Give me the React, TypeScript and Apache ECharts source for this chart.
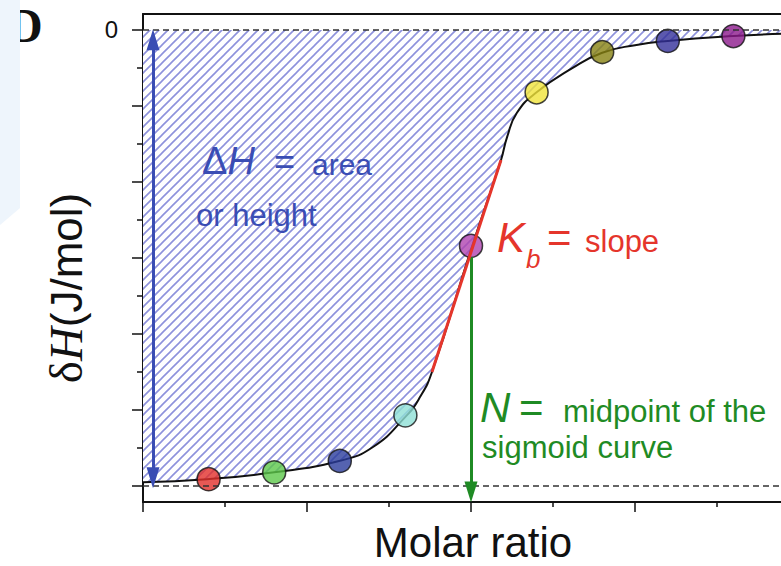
import React, { useEffect, useRef } from "react";
import * as echarts from "echarts";

// ---- data ----
const curveX = [0, 0.39, 0.8, 1.195, 1.4, 1.604, 1.689, 1.762, 2.0, 2.183, 2.22, 2.28, 2.4, 2.62, 2.8, 3.0, 3.2, 3.6, 3.9];
const curveY = [-5.95, -5.91, -5.82, -5.67, -5.49, -5.08, -4.83, -4.5, -2.89, -1.71, -1.41, -1.09, -0.82, -0.5, -0.3, -0.2, -0.145, -0.08, -0.05];

const pointX = [0.4, 0.8, 1.2, 1.6, 2.0, 2.4, 2.8, 3.2, 3.6];
const pointY = [-5.91, -5.82, -5.67, -5.07, -2.84, -0.82, -0.29, -0.145, -0.08];
const pointColors = ["#e2302a", "#5cc84a", "#2b3c9c", "#8fe0d6", "#b044b0", "#f0e43a", "#878212", "#33309a", "#8c1a8c"];

const slopeX = [1.762, 2.183];
const slopeY = [-4.5, -1.71];

const heightArrowX = 0.061;
const heightArrowY = [-0.13, -5.89];
const midArrowX = 2.0;
const midArrowY = [-2.99, -6.08];

const xMin = 0;
const xMax = 4;
const yMajorTicks = [-6, -5, -4, -3, -2, -1, 0];
const yMinorTicks = [-5.5, -4.5, -3.5, -2.5, -1.5, -0.5];
const yLabels = [0];
const refLevels = [0, -6];

export default function App() {
  const ref = useRef<HTMLDivElement>(null);
  useEffect(() => {
    if (!ref.current) return;
    const chart = echarts.init(ref.current, null, { renderer: "svg" });

    const s = 9;
    const cv = document.createElement("canvas");
    cv.width = s;
    cv.height = s;
    const ctx = cv.getContext("2d")!;
    ctx.fillStyle = "#ffffff";
    ctx.fillRect(0, 0, s, s);
    ctx.strokeStyle = "#8e92dc";
    ctx.lineWidth = 1.6;
    ctx.beginPath();
    ctx.moveTo(-1, s + 1);
    ctx.lineTo(s + 1, -1);
    ctx.moveTo(-1, 1);
    ctx.lineTo(1, -1);
    ctx.moveTo(s - 1, s + 1);
    ctx.lineTo(s + 1, s - 1);
    ctx.stroke();

    const blue = "#3a4db4";
    const red = "#e5352b";
    const green = "#1f8b24";
    const sans = "Liberation Sans, Arial, sans-serif";
    const serif = "Liberation Serif, Times New Roman, serif";

    const txt = (text: string, x: number, y: number, size: number, color: string, italic = false, extra: any = {}) => ({
      type: "text",
      x,
      y,
      z: 20,
      style: {
        text,
        fontSize: size,
        fontFamily: sans,
        fontStyle: italic ? "italic" : "normal",
        fill: color,
        align: "left",
        verticalAlign: "middle",
        ...extra,
      },
    });

    const axisBase = {
      type: "value",
      min: xMin,
      max: xMax,
      interval: 1,
      splitLine: { show: false },
      minorSplitLine: { show: false },
      axisLabel: { show: false },
    };

    chart.setOption({
      animation: false,
      backgroundColor: "#ffffff",
      grid: { left: 143, top: 14, right: 1, bottom: 64, show: false },
      xAxis: [
        {
          ...axisBase,
          position: "bottom",
          axisLine: { show: true, onZero: false, lineStyle: { color: "#111", width: 2 } },
          axisTick: { show: true, length: 10, lineStyle: { color: "#111", width: 1.5 } },
          minorTick: { show: true, splitNumber: 2, length: 5, lineStyle: { color: "#111", width: 1.5 } },
        },
        {
          ...axisBase,
          position: "top",
          axisLine: { show: true, onZero: false, lineStyle: { color: "#111", width: 2 } },
          axisTick: { show: false },
        },
      ],
      yAxis: [
        {
          type: "value",
          min: -6.21,
          max: 0.21,
          axisLine: { show: true, onZero: false, lineStyle: { color: "#111", width: 2 } },
          axisTick: { show: true, length: 11, customValues: yMajorTicks, lineStyle: { color: "#111", width: 1.5 } },
          axisLabel: {
            show: true,
            customValues: yLabels,
            formatter: (v: number) => String(Math.round(v)),
            fontSize: 24,
            fontFamily: sans,
            color: "#111",
            margin: 25,
          },
          splitLine: { show: false },
        },
        {
          type: "value",
          position: "left",
          min: -6.21,
          max: 0.21,
          axisLine: { show: false, onZero: false },
          axisTick: { show: true, length: 6, customValues: yMinorTicks, lineStyle: { color: "#111", width: 1.5 } },
          axisLabel: { show: false },
          splitLine: { show: false },
        },
      ],
      series: [
        {
          name: "curve",
          type: "line",
          z: 2,
          data: curveX.map((x, i) => [x, curveY[i]]),
          smooth: 0.5,
          showSymbol: false,
          symbol: "none",
          lineStyle: { color: "#111", width: 2 },
          areaStyle: { origin: 0, color: { image: cv, repeat: "repeat" }, opacity: 1 },
          silent: true,
          markLine: {
            silent: true,
            symbol: "none",
            label: { show: false },
            lineStyle: { color: "#333", type: [6, 4], width: 1.5 },
            data: refLevels.map((v) => ({ yAxis: v })),
          },
        },
        {
          name: "arrows",
          type: "line",
          z: 3,
          data: [],
          silent: true,
          markLine: {
            silent: true,
            label: { show: false },
            symbol: ["triangle", "triangle"],
            symbolSize: [13, 21],
            data: [
              [
                { coord: [heightArrowX, heightArrowY[0]], symbol: "triangle", symbolSize: [13, 21], lineStyle: { color: blue, width: 3, type: "solid" }, itemStyle: { color: blue } },
                { coord: [heightArrowX, heightArrowY[1]], symbol: "triangle", symbolSize: [13, 21] },
              ],
              [
                { coord: [midArrowX, midArrowY[0]], symbol: "none", lineStyle: { color: green, width: 3, type: "solid" }, itemStyle: { color: green } },
                { coord: [midArrowX, midArrowY[1]], symbol: "triangle", symbolSize: [13, 21] },
              ],
            ],
          },
        },
        {
          name: "points",
          type: "scatter",
          z: 4,
          symbolSize: 23,
          data: pointX.map((x, i) => ({
            value: [x, pointY[i]],
            itemStyle: { color: pointColors[i], borderColor: "#111", borderWidth: 1.5 },
          })),
          silent: true,
        },
        {
          name: "slope",
          type: "line",
          z: 5,
          data: slopeX.map((x, i) => [x, slopeY[i]]),
          symbol: "none",
          lineStyle: { color: red, width: 3 },
          silent: true,
        },
      ],
      graphic: [
        {
          type: "text",
          x: 8,
          y: 25,
          z: 1,
          style: { text: "D", fontSize: 48, lineHeight: 46, fontFamily: serif, fontWeight: "bold", fill: "#111", align: "left", verticalAlign: "middle" },
        },
        {
          type: "polygon",
          z: 2,
          shape: { points: [[0, 0], [20, 0], [20, 208], [0, 225]] },
          style: { fill: "#eef5fc" },
        },
        {
          type: "text",
          x: 66,
          y: 288,
          rotation: Math.PI / 2,
          z: 20,
          style: {
            text: "{d|δ}{h|H}{u|(J/mol)}",
            align: "center",
            verticalAlign: "middle",
            fill: "#111",
            rich: {
              d: { fontSize: 47, fontFamily: serif, fill: "#111" },
              h: { fontSize: 47, fontFamily: serif, fontStyle: "italic", fill: "#111" },
              u: { fontSize: 44, fontFamily: sans, fill: "#111" },
            },
          },
        },
        {
          type: "text",
          x: 473,
          y: 542,
          z: 20,
          style: { text: "Molar ratio", fontSize: 42, lineHeight: 36, fontFamily: sans, fill: "#111", align: "center", verticalAlign: "middle" },
        },
        {
          type: "text",
          x: 202,
          y: 161,
          z: 20,
          style: {
            text: "{a|Δ}{b|H}",
            align: "left",
            verticalAlign: "middle",
            rich: {
              a: { fontSize: 38, fontFamily: sans, fill: blue },
              b: { fontSize: 38, fontFamily: sans, fontStyle: "italic", fill: blue },
            },
          },
        },
        txt("=", 274, 161, 36, blue),
        txt("area", 312, 164, 30, blue),
        txt("or height", 196, 215, 31, blue),
        txt("K", 497, 237, 42, red, true),
        txt("b", 526, 259, 26, red, true),
        txt("=", 547, 237, 42, red),
        txt("slope", 585, 241, 31, red),
        txt("N", 480, 407, 42, green, true),
        txt("=", 519, 407, 42, green),
        txt("midpoint of the", 563, 411, 31, green),
        txt("sigmoid curve", 482, 447, 31, green),
      ],
    });
    return () => chart.dispose();
  }, []);
  return <div ref={ref} style={{ position: "fixed", left: 0, top: 0, width: 800, height: 566 }} />;
}
